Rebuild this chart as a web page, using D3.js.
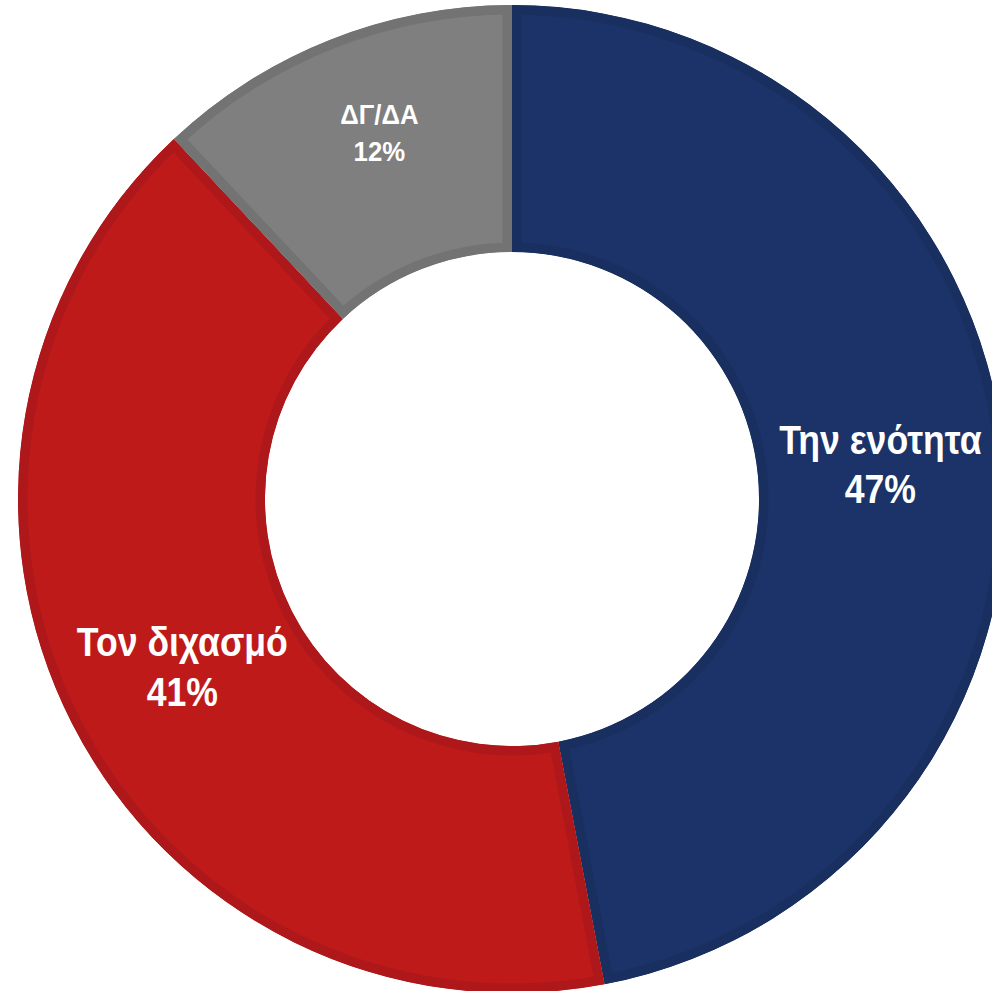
<!DOCTYPE html>
<html>
<head>
<meta charset="utf-8">
<script src="https://cdn.jsdelivr.net/npm/d3@7"></script>
<style>
html,body{margin:0;padding:0;background:#fff;}
svg{display:block;}
</style>
</head>
<body>
<svg id="chart" width="992" height="991"></svg>
<script>
const categories = ["Την ενότητα", "Τον διχασμό", "ΔΓ/ΔΑ"];
const values = [47, 41, 12];
const valueLabels = ["47%", "41%", "12%"];
const fillColors = ["#1b3369", "#bf1a1a", "#7f7f7f"];
const strokeColors = ["#192f60", "#ae181a", "#737373"];

const width = 992, height = 991;
const cx = 512, cy = 499;
const outerR = 494, innerR = 247;

const svg = d3.select("#chart");
const g = svg.append("g").attr("transform", `translate(${cx},${cy})`);

const data = categories.map((c, i) => ({ name: c, value: values[i], label: valueLabels[i], i }));
const pie = d3.pie().value(d => d.value).sort(null);
const arcs = pie(data);
const arc = d3.arc().innerRadius(innerR).outerRadius(outerR);

const defs = svg.append("defs");
arcs.forEach((a, i) => {
  defs.append("clipPath").attr("id", "clip" + i)
    .append("path").attr("d", arc(a));
});

g.selectAll("path.slice").data(arcs).join("path")
  .attr("class", "slice")
  .attr("d", arc)
  .attr("fill", d => fillColors[d.index])
  .attr("stroke", d => strokeColors[d.index])
  .attr("stroke-width", 19)
  .attr("clip-path", d => `url(#clip${d.index})`);

const fontSizes = [40, 40, 28];
const scaleX = [0.89, 0.89, 0.92];
const labelRadius = [370, 370, 390];
const angleNudge = [0, 0, 0.03];
const lineGap = [50, 50, 37];

arcs.forEach((a, i) => {
  const r = labelRadius[i];
  const mid = (a.startAngle + a.endAngle) / 2 + angleNudge[i];
  const x = r * Math.sin(mid);
  const y = -r * Math.cos(mid);
  const fs = fontSizes[i];
  const capH = fs * 0.716;
  const firstBase = -lineGap[i] / 2 + capH / 2;
  const t = g.append("text")
    .attr("transform", `translate(${x},${y}) scale(${scaleX[i]},1)`)
    .attr("text-anchor", "middle")
    .attr("font-family", "'Liberation Sans', Arial, sans-serif")
    .attr("font-weight", "bold")
    .attr("font-size", fs)
    .attr("fill", "#ffffff");
  t.append("tspan").attr("x", 0).attr("y", firstBase).text(a.data.name);
  t.append("tspan").attr("x", 0).attr("y", firstBase + lineGap[i]).text(a.data.label);
});
</script>
</body>
</html>
